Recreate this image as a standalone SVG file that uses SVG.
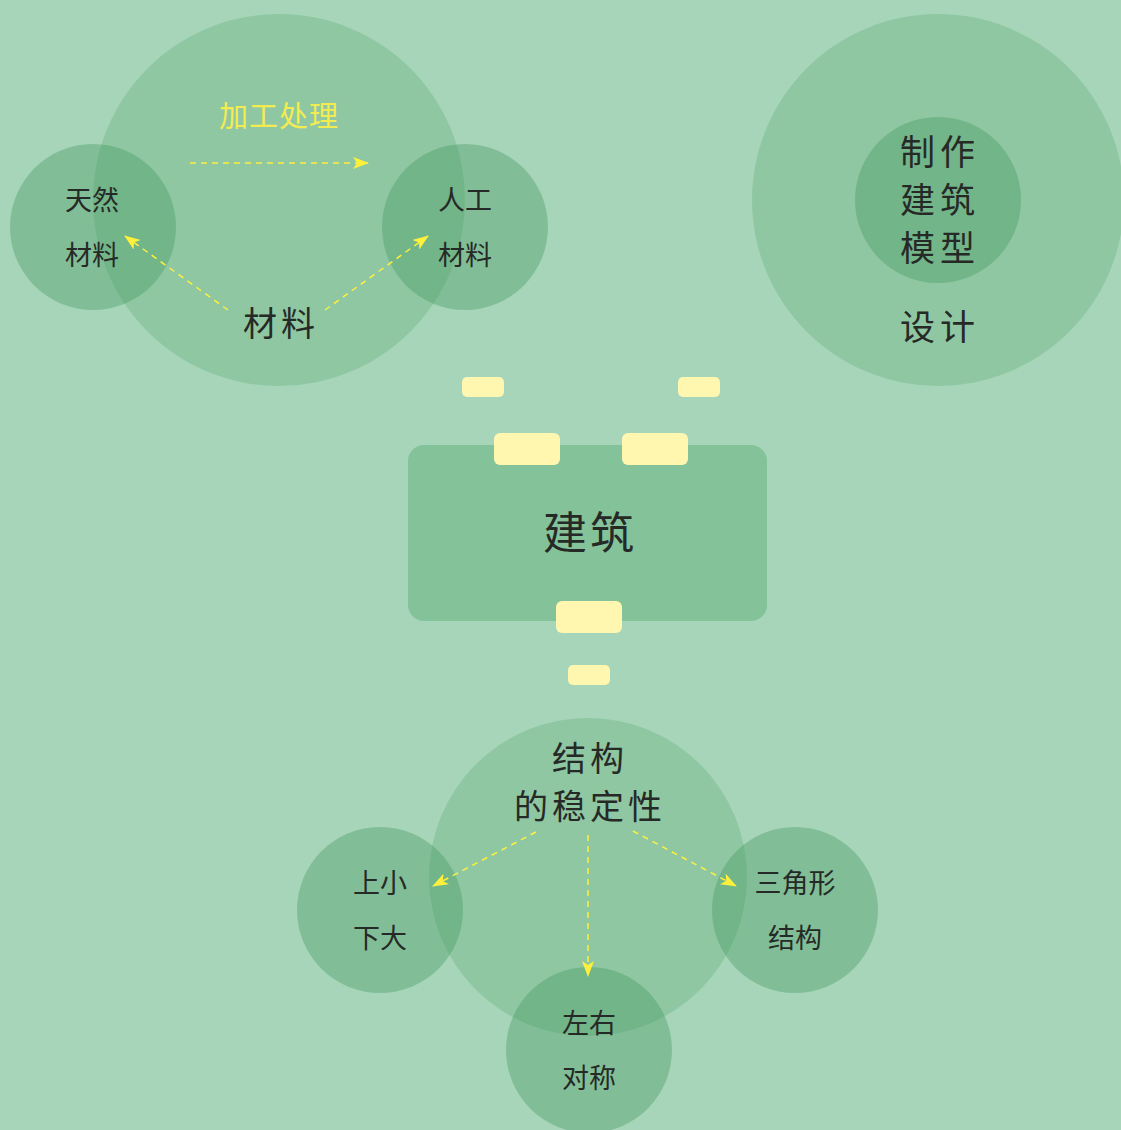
<svg xmlns="http://www.w3.org/2000/svg" width="1121" height="1130" viewBox="0 0 1121 1130">
<defs>
<marker id="ah" viewBox="0 0 16 12" refX="15" refY="6" markerWidth="16" markerHeight="12" markerUnits="userSpaceOnUse" orient="auto">
<path d="M0,0 L16,6 L0,12 L4,6 Z" fill="#fff03c"/>
</marker>
<style>
.big{fill:#5aa872;fill-opacity:0.3}
.sm{fill:#3c965a;fill-opacity:0.35}
.t{font-family:"Noto Sans CJK SC","Noto Sans",sans-serif;fill:#262a26;text-anchor:middle}
.s26{font-size:27px}
.s34{font-size:34px;letter-spacing:4px}
.s36{font-size:35px;letter-spacing:5px}
.tag{fill:#fff6b0}
.ln{stroke:#fff03c;stroke-width:1.5;stroke-dasharray:6,5;fill:none;marker-end:url(#ah)}
</style>
</defs>
<rect width="1121" height="1130" fill="#a7d5b9"/>
<g id="materials">
<circle class="big" cx="279" cy="200" r="186"/>
<text class="t s34" x="281" y="336">材料</text>
<text x="279" y="127" font-family="Noto Sans CJK SC, sans-serif" font-size="29" fill="#f3ec50" text-anchor="middle" letter-spacing="1">加工处理</text>
</g>
<g id="natural">
<circle class="sm" cx="93" cy="227" r="83"/>
<text class="t s26" x="92" y="210">天然</text>
<text class="t s26" x="92" y="265">材料</text>
</g>
<g id="artificial">
<circle class="sm" cx="465" cy="227" r="83"/>
<text class="t s26" x="465" y="210">人工</text>
<text class="t s26" x="465" y="265">材料</text>
</g>
<g id="design">
<circle class="big" cx="938" cy="200" r="186"/>
<text class="t s36" x="940" y="340">设计</text>
</g>
<g id="model">
<circle class="sm" cx="938" cy="200" r="83"/>
<text class="t s36" x="940" y="165">制作</text>
<text class="t s36" x="940" y="213">建筑</text>
<text class="t s36" x="940" y="261">模型</text>
</g>
<g id="building">
<rect x="408" y="445" width="359" height="176" rx="16" fill="#84c29a"/>
<text class="t" x="590" y="549" font-size="44" letter-spacing="3">建筑</text>
</g>
<g id="tags">
<rect class="tag" x="462" y="377" width="42" height="20" rx="5"/>
<rect class="tag" x="678" y="377" width="42" height="20" rx="5"/>
<rect class="tag" x="494" y="433" width="66" height="32" rx="6"/>
<rect class="tag" x="622" y="433" width="66" height="32" rx="6"/>
<rect class="tag" x="556" y="601" width="66" height="32" rx="6"/>
<rect class="tag" x="568" y="665" width="42" height="20" rx="5"/>
</g>
<g id="stability">
<circle class="big" cx="588" cy="877" r="159"/>
<text class="t s34" x="590" y="771">结构</text>
<text class="t s34" x="590" y="819">的稳定性</text>
</g>
<g id="topsmall">
<circle class="sm" cx="380" cy="910" r="83"/>
<text class="t s26" x="380" y="893">上小</text>
<text class="t s26" x="380" y="948">下大</text>
</g>
<g id="triangle">
<circle class="sm" cx="795" cy="910" r="83"/>
<text class="t s26" x="795" y="893">三角形</text>
<text class="t s26" x="795" y="948">结构</text>
</g>
<g id="symmetry">
<circle class="sm" cx="589" cy="1050" r="83"/>
<text class="t s26" x="589" y="1033">左右</text>
<text class="t s26" x="589" y="1088">对称</text>
</g>
<g id="connectors">
<line class="ln" x1="190" y1="163" x2="368" y2="163"/>
<line class="ln" x1="228" y1="310" x2="125" y2="236"/>
<line class="ln" x1="325" y1="310" x2="428" y2="236"/>
<line class="ln" x1="536" y1="832" x2="433" y2="886"/>
<line class="ln" x1="588" y1="835" x2="588" y2="976"/>
<line class="ln" x1="633" y1="831" x2="736" y2="886"/>
</g>
</svg>
